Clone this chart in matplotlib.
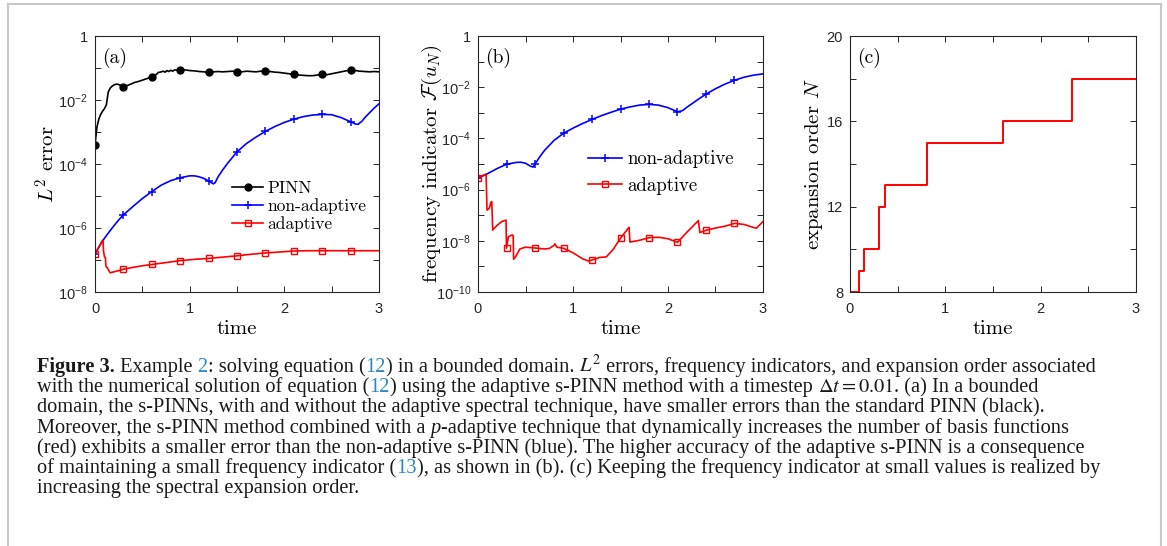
import numpy as np
import matplotlib.pyplot as plt
from matplotlib.lines import Line2D
from matplotlib.ticker import NullLocator

# ---- data (log10 values) ----
# (a) L2 error
pinn_t = [0, 0.02, 0.04, 0.06, 0.08, 0.10, 0.12, 0.13, 0.14, 0.16, 0.18, 0.20, 0.23, 0.26,
          0.30, 0.34, 0.38, 0.42, 0.46, 0.50, 0.55, 0.60, 0.64, 0.67, 0.70, 0.72, 0.74, 0.76,
          0.78, 0.80, 0.82, 0.84, 0.87, 0.90, 0.95, 1.00, 1.05, 1.10, 1.15, 1.20, 1.25, 1.30,
          1.35, 1.40, 1.45, 1.50, 1.55, 1.60, 1.65, 1.70, 1.75, 1.80, 1.85, 1.90, 1.95, 2.00,
          2.05, 2.10, 2.15, 2.20, 2.25, 2.30, 2.35, 2.40, 2.45, 2.50, 2.55, 2.60, 2.65, 2.70,
          2.75, 2.80, 2.85, 2.90, 2.95, 3.00]
pinn_log = [-3.40, -2.85, -2.60, -2.45, -2.35, -2.27, -2.15, -1.95, -1.75, -1.63, -1.57, -1.53,
            -1.50, -1.53, -1.58, -1.55, -1.50, -1.45, -1.42, -1.38, -1.33, -1.27, -1.22, -1.14,
            -1.12, -1.10, -1.13, -1.08, -1.11, -1.07, -1.10, -1.06, -1.07, -1.05, -1.06, -1.08,
            -1.09, -1.11, -1.12, -1.14, -1.12, -1.11, -1.12, -1.11, -1.10, -1.11, -1.12, -1.10,
            -1.11, -1.12, -1.10, -1.10, -1.11, -1.13, -1.14, -1.16, -1.18, -1.20, -1.22, -1.23,
            -1.24, -1.24, -1.22, -1.20, -1.21, -1.18, -1.15, -1.12, -1.09, -1.06, -1.08, -1.10,
            -1.11, -1.12, -1.11, -1.12]

nonad_a_t = [0, 0.05, 0.1, 0.15, 0.2, 0.25, 0.3, 0.4, 0.5, 0.6, 0.7, 0.8, 0.9, 1.0, 1.05, 1.1,
             1.15, 1.2, 1.25, 1.27, 1.3, 1.35, 1.4, 1.5, 1.6, 1.7, 1.8, 1.9, 2.0, 2.1, 2.2, 2.3,
             2.4, 2.5, 2.6, 2.7, 2.75, 2.78, 2.82, 2.86, 2.9, 2.95, 3.0]
nonad_a_log = [-6.81, -6.55, -6.32, -6.12, -5.93, -5.75, -5.59, -5.33, -5.08, -4.86, -4.66, -4.52,
               -4.43, -4.37, -4.37, -4.40, -4.45, -4.53, -4.62, -4.58, -4.40, -4.18, -3.98, -3.62,
               -3.36, -3.16, -2.98, -2.83, -2.70, -2.60, -2.52, -2.47, -2.45, -2.46, -2.55, -2.68,
               -2.75, -2.76, -2.66, -2.52, -2.40, -2.25, -2.12]

adapt_a_t = [0, 0.04, 0.08, 0.085, 0.09, 0.10, 0.11, 0.115, 0.12, 0.13, 0.14, 0.16, 0.2, 0.3,
             0.4, 0.5, 0.6, 0.75, 0.9, 1.05, 1.2, 1.35, 1.5, 1.65, 1.8, 1.95, 2.1, 2.25, 2.4,
             2.55, 2.7, 2.85, 3.0]
adapt_a_log = [-6.81, -6.60, -6.38, -6.40, -6.72, -6.90, -6.92, -7.18, -7.22, -7.23, -7.30, -7.40,
               -7.37, -7.29, -7.23, -7.18, -7.14, -7.08, -7.02, -6.98, -6.95, -6.91, -6.87, -6.82,
               -6.78, -6.75, -6.72, -6.71, -6.71, -6.71, -6.71, -6.71, -6.71]

# (b) frequency indicator
nonad_b_t = [0, 0.1, 0.2, 0.3, 0.4, 0.45, 0.5, 0.55, 0.58, 0.6, 0.65, 0.7, 0.8, 0.9, 1.0, 1.1,
             1.2, 1.3, 1.4, 1.5, 1.6, 1.7, 1.8, 1.9, 2.0, 2.05, 2.1, 2.15, 2.2, 2.3, 2.4, 2.5,
             2.6, 2.7, 2.8, 2.9, 3.0]
nonad_b_log = [-5.55, -5.38, -5.18, -5.01, -4.94, -4.93, -4.97, -5.08, -5.12, -5.00, -4.72, -4.47,
               -4.08, -3.80, -3.60, -3.42, -3.26, -3.11, -2.98, -2.86, -2.77, -2.70, -2.67, -2.70,
               -2.80, -2.88, -2.96, -2.92, -2.78, -2.52, -2.27, -2.06, -1.88, -1.73, -1.61, -1.53,
               -1.48]

adapt_b_t = [0, 0.04, 0.085, 0.095, 0.12, 0.135, 0.145, 0.155, 0.2, 0.25, 0.295, 0.30, 0.32,
             0.36, 0.37, 0.375, 0.40, 0.44, 0.5, 0.6, 0.7, 0.75, 0.8, 0.81, 0.83, 0.9, 1.0, 1.1,
             1.16, 1.2, 1.28, 1.35, 1.42, 1.5, 1.59, 1.6, 1.7, 1.8, 1.9, 2.0, 2.1, 2.2, 2.32,
             2.335, 2.4, 2.5, 2.6, 2.7, 2.8, 2.9, 2.93, 3.0]
adapt_b_log = [-5.53, -5.47, -5.39, -6.80, -6.72, -6.50, -6.47, -7.58, -7.40, -7.25, -7.19, -8.29,
               -7.84, -7.77, -7.80, -8.72, -8.60, -8.32, -8.25, -8.28, -8.32, -8.30, -8.18, -8.12,
               -8.25, -8.29, -8.47, -8.70, -8.79, -8.75, -8.65, -8.63, -8.35, -7.90, -7.47, -8.05,
               -7.98, -7.88, -7.86, -7.92, -8.06, -7.66, -7.21, -7.68, -7.59, -7.50, -7.43, -7.32,
               -7.36, -7.48, -7.51, -7.25]

# (c) expansion order
order_t = [0, 0.09, 0.15, 0.30, 0.37, 0.81, 1.60, 2.33, 3.0]
order_N = [8, 9, 10, 12, 13, 15, 16, 18, 18]

marker_times = [0, 0.3, 0.6, 0.9, 1.2, 1.5, 1.8, 2.1, 2.4, 2.7]

# ---- figure ----
plt.rcParams['font.family'] = 'Liberation Sans'
plt.rcParams['mathtext.fontset'] = 'cm'

W, H = 1167, 546
fig = plt.figure(figsize=(W / 100, H / 100), dpi=100)
SPINE = '#262626'
LABEL = dict(family='cmr10', fontsize=15)


def px_axes(l, t, r, b):
    return fig.add_axes([l / W, 1 - b / H, (r - l) / W, (b - t) / H])


def marks(t):
    t = np.asarray(t)
    return [int(np.argmin(np.abs(t - m))) for m in marker_times]


def style(ax, tag):
    for s in ax.spines.values():
        s.set_color(SPINE)
        s.set_linewidth(0.8)
    ax.tick_params(which='both', direction='in', top=True, right=True, length=4,
                   width=0.7, color=SPINE, labelsize=10.5, labelcolor=SPINE)
    ax.tick_params(axis='x', pad=7)
    ax.tick_params(axis='y', pad=5)
    ax.set_xlim(0, 3)
    ax.set_xticks(np.arange(0, 3.01, 0.5))
    ax.set_xticklabels(['0', '', '1', '', '2', '', '3'])
    ax.set_xlabel('time', labelpad=3, **LABEL)
    ax.text(0.024, 0.955, tag, transform=ax.transAxes, va='top', family='cmr10', fontsize=14)


def log_axis(ax, lo):
    ax.set_yscale('log')
    ax.set_ylim(10.0 ** lo, 1)
    exps = np.arange(lo, 1)
    ax.set_yticks(10.0 ** exps)
    ax.set_yticklabels(['1' if e == 0 else
                        (r'$\mathregular{10^{%d}}$' % e if e % 2 == 0 else '') for e in exps])
    ax.yaxis.set_minor_locator(NullLocator())


ax_a = px_axes(95, 36, 379, 292)
ax_b = px_axes(478, 36, 763, 292)
ax_c = px_axes(850, 36, 1136, 292)

# (a)
ax_a.plot(pinn_t, 10.0 ** np.array(pinn_log), color='k', lw=1.2, marker='o', ms=5,
          markevery=marks(pinn_t), label='PINN')
ax_a.plot(nonad_a_t, 10.0 ** np.array(nonad_a_log), color='#0000ff', lw=1.2, marker='+', ms=6,
          mew=1.1, markevery=marks(nonad_a_t), label='non-adaptive')
ax_a.plot(adapt_a_t, 10.0 ** np.array(adapt_a_log), color='#ff0000', lw=1.2, marker='s', ms=5,
          mfc='none', mew=1.0, markevery=marks(adapt_a_t), label='adaptive')
log_axis(ax_a, -8)
style(ax_a, '(a)')
ax_a.set_ylabel(r'$L^2$ error', labelpad=-0.5, **LABEL)
ax_a.legend(loc='center left', bbox_to_anchor=(0.482, 0.335), frameon=False,
            prop={'family': 'cmr10', 'size': 12.5}, handlelength=1.8, handletextpad=0.25,
            labelspacing=0.12, borderpad=0, borderaxespad=0)

# (b)
ax_b.plot(nonad_b_t, 10.0 ** np.array(nonad_b_log), color='#0000ff', lw=1.2, marker='+', ms=6,
          mew=1.1, markevery=marks(nonad_b_t), label='non-adaptive')
ax_b.plot(adapt_b_t, 10.0 ** np.array(adapt_b_log), color='#ff0000', lw=1.2, marker='s', ms=5,
          mfc='none', mew=1.0, markevery=marks(adapt_b_t), label='adaptive')
log_axis(ax_b, -10)
style(ax_b, '(b)')
ax_b.set_ylabel(r'frequency indicator $\mathcal{F}(u_N)$', labelpad=-6, **LABEL)
ax_b.legend(loc='center left', bbox_to_anchor=(0.387, 0.466), frameon=False,
            prop={'family': 'cmr10', 'size': 13.5}, handlelength=1.8, handletextpad=0.3,
            labelspacing=0.45, borderpad=0, borderaxespad=0)

# (c)
ax_c.step(order_t, order_N, where='post', color='#ff0000', lw=1.4)
ax_c.set_ylim(8, 20)
ax_c.set_yticks(np.arange(8, 21, 2))
ax_c.set_yticklabels(['8', '', '12', '', '16', '', '20'])
style(ax_c, '(c)')
ax_c.set_ylabel(r'expansion order $N$', labelpad=1, **LABEL)

# ---- page frame ----
fc = '#c8c8c8'
for xs, ys in [([7.5, 1161], [4, 4]), ([7.5, 7.5], [4, H]), ([1161, 1161], [4, H])]:
    fig.add_artist(Line2D([x / W for x in xs], [1 - y / H for y in ys],
                          transform=fig.transFigure, color=fc, lw=1.5))

# ---- caption ----
CAP_BLUE = '#2a88c8'
cap_lines = [
    [('Figure 3.', 'b'), (' Example ', 'n'), ('2', 'r'), (': solving equation (', 'n'), ('12', 'r'),
     (') in a bounded domain. ', 'n'), ('$L^2$', 'n'),
     (' errors, frequency indicators, and expansion order associated', 'n')],
    [('with the numerical solution of equation (', 'n'), ('12', 'r'),
     (') using the adaptive s-PINN method with a timestep ', 'n'), (r'$\Delta t = 0.01$', 'n'),
     ('. (a) In a bounded', 'n')],
    [('domain, the s-PINNs, with and without the adaptive spectral technique, have smaller '
      'errors than the standard PINN (black).', 'n')],
    [('Moreover, the s-PINN method combined with a ', 'n'), ('p', 'i'),
     ('-adaptive technique that dynamically increases the number of basis functions', 'n')],
    [('(red) exhibits a smaller error than the non-adaptive s-PINN (blue). The higher accuracy '
      'of the adaptive s-PINN is a consequence', 'n')],
    [('of maintaining a small frequency indicator (', 'n'), ('13', 'r'),
     ('), as shown in (b). (c) Keeping the frequency indicator at small values is realized by', 'n')],
    [('increasing the spectral expansion order.', 'n')],
]
renderer = fig.canvas.get_renderer()


def piece_kw(kind, size):
    kw = dict(family='Liberation Serif', fontsize=size, color='#1a1a1a', math_fontfamily='stix')
    if kind == 'b':
        kw['weight'] = 'bold'
    elif kind == 'i':
        kw['style'] = 'italic'
    elif kind == 'r':
        kw['color'] = CAP_BLUE
    return kw


def text_w(s, kw):
    t = fig.text(0, 0, s, **kw)
    w = t.get_window_extent(renderer).width
    t.remove()
    return w


def advance(s, kw):
    return text_w('|' + s + '|', kw) - text_w('||', kw)


def line_width(pieces, size):
    return sum(advance(s, piece_kw(k, size)) for s, k in pieces)


# Times is narrower than the original face: compromise between width and height
cap_size = 0.95 * 12.0 * (1152 - 37) / line_width(cap_lines[0], 12.0)
for i, pieces in enumerate(cap_lines):
    x = 37.0
    y = 372 + 20.2 * i
    for s, k in pieces:
        kw = piece_kw(k, cap_size)
        fig.text(x / W, 1 - y / H, s, va='baseline', ha='left', **kw)
        x += advance(s, kw)

fig.savefig('out.png', dpi=100)
